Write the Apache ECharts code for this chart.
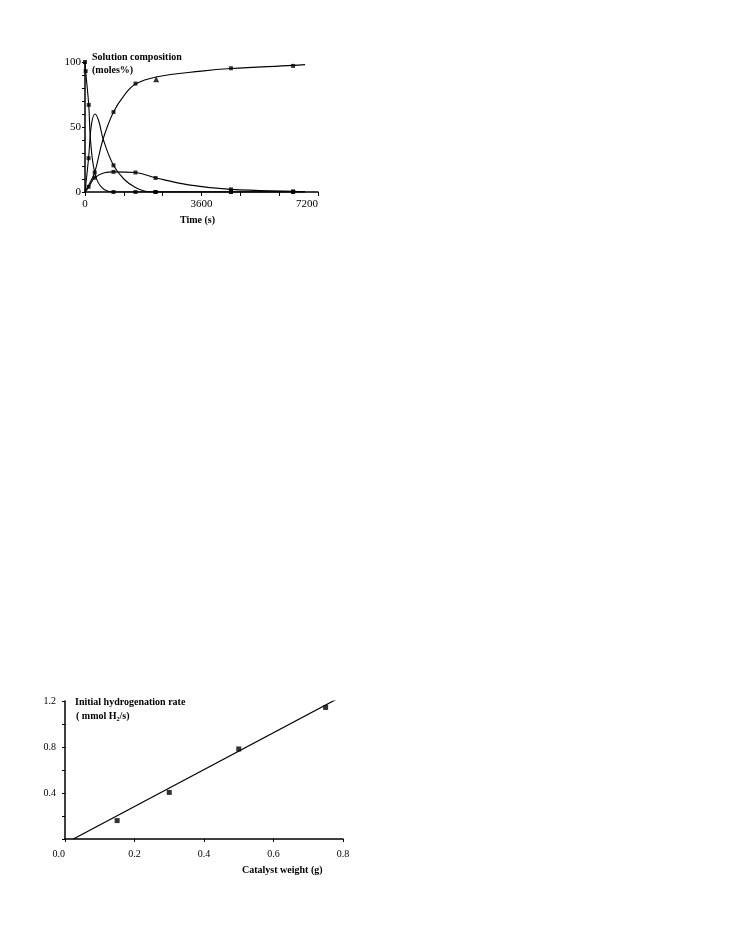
<!DOCTYPE html>
<html>
<head>
<meta charset="utf-8">
<script src="https://cdn.jsdelivr.net/npm/echarts@6/dist/echarts.min.js"></script>
<style>
html,body{margin:0;padding:0;background:#fff;}
#chart{width:735px;height:936px;}
</style>
</head>
<body>
<div id="chart"></div>
<script>
// ---------- Top chart: solution composition vs time ----------
const timeTicks = [0, 3600, 7200];
const compTicks = [0, 50, 100];
// curves: [time (s), moles %]
const reactantCurve = [[0,100],[20,93],[115,67],[170,40],[300,15],[500,4],[880,0],[1560,0],[2180,0],[4510,0],[6430,0],[6800,0]];
const intermediateCurve = [[0,0],[110,26],[200,52],[310,60],[420,55],[570,40],[880,20.5],[1200,10],[1560,3.5],[2050,0],[2180,0],[4510,0],[6430,0],[6800,0]];
const productCurve = [[0,0],[110,5],[300,15],[550,40],[880,61.5],[1200,74],[1560,83],[2200,88.5],[3600,93],[4510,95],[6430,97.4],[6800,98]];
const byproductCurve = [[0,0],[110,3.5],[300,11],[600,14.8],[880,15.5],[1560,15],[2200,10.8],[3200,5.5],[4510,2],[6430,0.5],[6800,0.3]];
// measured points
const reactantPts = [[0,100],[20,93],[115,67],[300,15],[880,0],[1560,0],[2180,0],[4510,0],[6430,0]];
const intermediatePts = [[110,26],[880,20.5],[2180,0],[4510,0],[6430,0]];
const productPts = [[110,4],[880,61.5],[1560,83.4],[4510,95.2],[6430,97]];
const productTriPts = [[2200,86.7]];
const byproductPts = [[300,11],[880,15.5],[1560,15],[2180,10.8],[4510,2],[6430,0.5]];

// ---------- Bottom chart: initial rate vs catalyst weight ----------
const weightTicks = [0.0, 0.2, 0.4, 0.6, 0.8];
const rateTicks = [0.4, 0.8, 1.2];
const catalystWeight = [0.15, 0.30, 0.50, 0.75];
const initialRate = [0.16, 0.405, 0.783, 1.144];
const fitLine = [[0.024, 0], [0.783, 1.218]];

const FONT = '"Liberation Serif","Times New Roman",serif';
const chart = echarts.init(document.getElementById('chart'), null, {renderer:'canvas'});

const axisLine = {show:true, lineStyle:{color:'#000', width:1.5}};
function near(v, list){ return list.some(t => Math.abs(t - v) < 1e-6); }

const curveSeries = (data) => ({
  type:'line', xAxisIndex:0, yAxisIndex:0, data, showSymbol:false, smooth:0.4,
  lineStyle:{color:'#000', width:1.1}, silent:true, z:3
});
const ptSeries = (data, symbol) => ({
  type:'scatter', xAxisIndex:0, yAxisIndex:0, data, symbol: symbol || 'rect', symbolSize: symbol==='triangle'?6:4,
  itemStyle:{color:'#000'}, silent:true, z:4
});

chart.setOption({
  animation:false,
  backgroundColor:'#fff',
  grid:[
    {left:85, top:62, width:233, height:130},
    {left:65, top:701, width:278, height:138}
  ],
  xAxis:[
    {type:'value', gridIndex:0, min:0, max:7200, interval:1200,
     axisLine, axisTick:{show:true, inside:false, length:3, lineStyle:{color:'#000', width:1}},
     splitLine:{show:false},
     axisLabel:{color:'#000', fontFamily:FONT, fontSize:11, margin:7, alignMaxLabel:'right',
       formatter:v => near(v, timeTicks) ? String(v) : ''}},
    {type:'value', gridIndex:0, min:0, max:7200, interval:1200,
     axisLine:{show:false}, axisTick:{show:true, inside:true, length:4, lineStyle:{color:'#000', width:1}},
     splitLine:{show:false}, axisLabel:{show:false}},
    {type:'value', gridIndex:1, min:0, max:0.8, interval:0.2,
     axisLine, axisTick:{show:true, inside:false, length:3, lineStyle:{color:'#000', width:1}},
     splitLine:{show:false},
     axisLabel:{color:'#000', fontFamily:FONT, fontSize:10, margin:10, alignMinLabel:'right',
       formatter:v => near(v, weightTicks) ? v.toFixed(1) : ''}},
    {type:'value', gridIndex:1, min:0, max:0.8, interval:0.2,
     axisLine:{show:false}, axisTick:{show:true, inside:true, length:3, lineStyle:{color:'#000', width:1}},
     splitLine:{show:false}, axisLabel:{show:false}}
  ],
  yAxis:[
    {type:'value', gridIndex:0, min:0, max:100, interval:10,
     axisLine, axisTick:{show:true, inside:false, length:2, lineStyle:{color:'#000', width:1}},
     splitLine:{show:false},
     axisLabel:{color:'#000', fontFamily:FONT, fontSize:11, margin:4,
       formatter:v => near(v, compTicks) ? String(v) : ''}},
    {type:'value', gridIndex:0, min:0, max:100, interval:10,
     axisLine:{show:false}, axisTick:{show:true, inside:true, length:3, lineStyle:{color:'#000', width:1}},
     splitLine:{show:false}, axisLabel:{show:false}},
    {type:'value', gridIndex:1, min:0, max:1.2, interval:0.2,
     axisLine, axisTick:{show:true, inside:false, length:3, lineStyle:{color:'#000', width:1}},
     splitLine:{show:false},
     axisLabel:{color:'#000', fontFamily:FONT, fontSize:10, margin:9,
       formatter:v => near(v, rateTicks) ? v.toFixed(1) : ''}},
    {type:'value', gridIndex:1, min:0, max:1.2, interval:0.2,
     axisLine:{show:false}, axisTick:{show:true, inside:true, length:3, lineStyle:{color:'#000', width:1}},
     splitLine:{show:false}, axisLabel:{show:false}}
  ],
  series:[
    curveSeries(reactantCurve),
    curveSeries(intermediateCurve),
    curveSeries(productCurve),
    curveSeries(byproductCurve),
    ptSeries(reactantPts),
    ptSeries(intermediatePts),
    ptSeries(productPts),
    ptSeries(productTriPts, 'triangle'),
    ptSeries(byproductPts),
    {type:'line', xAxisIndex:2, yAxisIndex:2, data:fitLine, showSymbol:false,
     lineStyle:{color:'#000', width:1.2}, silent:true, z:3},
    {type:'scatter', xAxisIndex:2, yAxisIndex:2,
     data:catalystWeight.map((w,i)=>[w, initialRate[i]]),
     symbol:'rect', symbolSize:5, itemStyle:{color:'#000'}, silent:true, z:4}
  ],
  graphic:[
    {type:'text', left:92, top:52, style:{text:'Solution composition', font:'bold 10px '+FONT, fill:'#000'}},
    {type:'text', left:92, top:65, style:{text:'(moles%)', font:'bold 10px '+FONT, fill:'#000'}},
    {type:'text', left:180, top:215, style:{text:'Time (s)', font:'bold 10px '+FONT, fill:'#000'}},
    {type:'text', left:75, top:697, style:{text:'Initial hydrogenation rate', font:'bold 10px '+FONT, fill:'#000'}},
    {type:'text', left:76, top:711, style:{text:'( mmol H\u2082/s)', font:'bold 10px '+FONT, fill:'#000'}},
    {type:'text', left:242, top:865, style:{text:'Catalyst weight (g)', font:'bold 10px '+FONT, fill:'#000'}}
  ]
});
</script>
</body>
</html>
